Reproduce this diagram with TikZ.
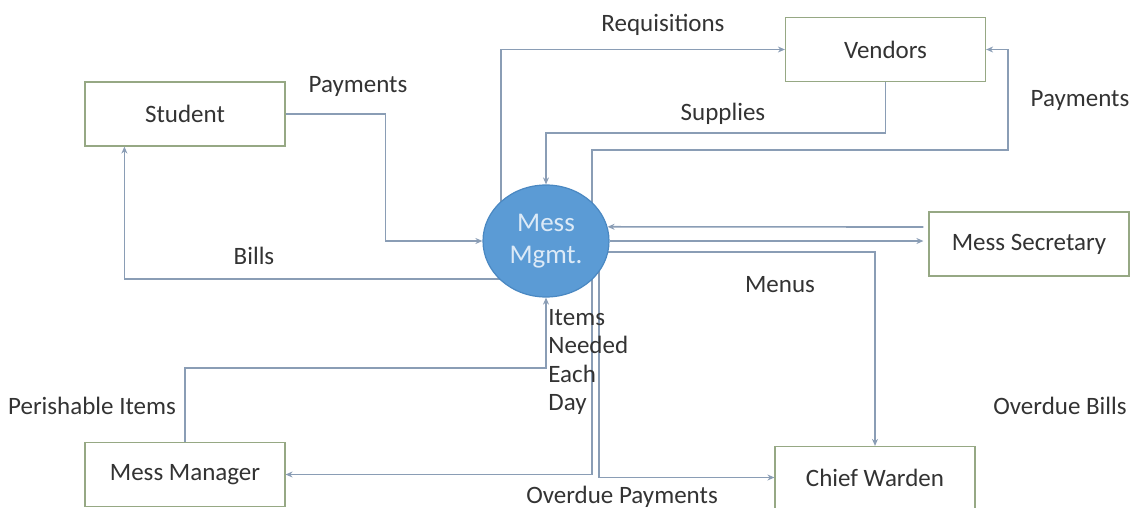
\documentclass[tikz,border=0pt]{standalone}
\usepackage{fontspec}
\setmainfont{Carlito}
\usetikzlibrary{calc,arrows.meta,shapes.geometric,backgrounds}
\definecolor{linec}{HTML}{8A9DB5}
\definecolor{boxc}{HTML}{96A884}
\definecolor{circf}{HTML}{5B9BD5}
\definecolor{circd}{HTML}{4A88C2}
\definecolor{txtc}{HTML}{333333}
\definecolor{circt}{HTML}{DCEAF7}
\begin{document}
\begin{tikzpicture}[x=0.5pt,y=-0.5pt,
  every node/.style={font=\fontsize{12.5}{14.3}\selectfont, text=txtc},
  entity/.style={draw=boxc, line width=0.6pt, fill=white, minimum width=100pt, minimum height=32pt, inner sep=0pt},
  flow/.style={draw=linec, line width=0.8pt},
  flowa/.style={flow, -{Stealth[length=3.5pt,width=3pt]}},
  lbl/.style={inner sep=0pt}]
\useasboundingbox (0,0) rectangle (1134,508);
\node[entity] (stu) at (185,114) {Student};
\node[entity] (ven) at (885.5,49.5) {Vendors};
\node[entity] (sec) at (1029,244) {Mess Secretary};
\node[entity] (mm) at (185,474.5) {Mess Manager};
\node[entity, minimum height=31pt] (cw) at (875,477.5) {Chief Warden};
\node[ellipse, draw=circd, line width=0.6pt, fill=circf, minimum width=63pt, minimum height=56pt, inner sep=0pt, align=center, text=circt, font=\fontsize{13.5}{16}\selectfont] (m) at (546,241) {Mess\\Mgmt.};
\begin{scope}[on background layer]
  % Student -> Mess (Payments)
  \draw[flowa] (stu.east) -- ++(100,0) |- (m.west);
  % Mess -> Student (Bills)
  \draw[flowa] ($(m.center)+(-40,38)$) -| ($(stu.south west)+(40,0)$);
  % Mess -> Vendors (Requisitions)
  \draw[flowa] ($(m.center)+(-45,0)$) |- (ven.west);
  % Vendors -> Mess (Supplies)
  \draw[flowa] (ven.south) -- ++(0,51) -| (m.north);
  % Mess -> Vendors (Payments)
  \draw[flowa] ($(m.center)+(46,0)$) -- ++(0,-91) -| ($(ven.east)+(22,0)$) -- (ven.east);
  % Secretary -> Mess
  \draw[flowa] ($(sec.west)+(-5,-17)$) -- (m.13);
  % Mess -> Secretary
  \draw[flowa] (m.east) -- ($(m.east -| sec.west)+(-5,0)$);
  % Mess -> Chief Warden (Menus)
  \draw[flowa] (m.-10) -| (cw.north);
  % Mess -> Mess Manager (Items Needed Each Day)
  \draw[flowa] ($(m.center)+(46,0)$) |- (mm.east);
  % Mess -> Chief Warden (Overdue Payments)
  \draw[flowa] ($(m.center)+(53,0)$) |- (cw.west);
  % Mess Manager -> Mess (Perishable Items)
  \draw[flowa] (mm.north) -- ++(0,-74) -| (m.south);
\end{scope}
\node[lbl] (l1) at (358,86) {Payments};
\node[lbl] (l2) at (663,25) {Requisitions};
\node[lbl] (l3) at (723,114) {Supplies};
\node[lbl] (l4) at (1080,100) {Payments};
\node[lbl] (l5) at (254,256) {Bills};
\node[lbl] (l6) at (780,285) {Menus};
\node[lbl] (l7) at (1060,406) {Overdue Bills};
\node[lbl] (l8) at (92,406) {Perishable Items};
\node[lbl] (l9) at (622,497) {Overdue Payments};
\node[lbl, anchor=west, align=left] (l10) at (548,362) {Items\\Needed\\Each\\Day};
\end{tikzpicture}
\end{document}
